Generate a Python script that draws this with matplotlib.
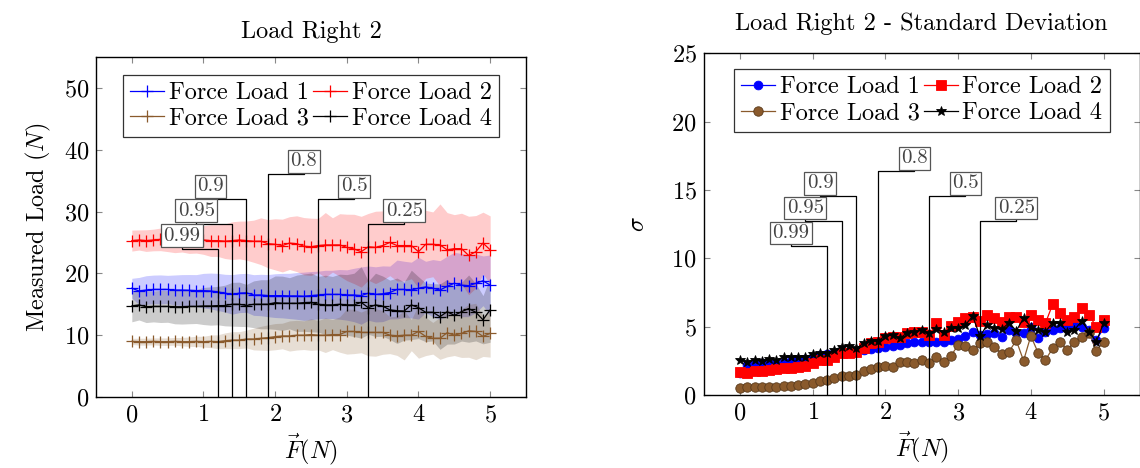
import numpy as np
import matplotlib
matplotlib.use('Agg')
import matplotlib.pyplot as plt
import matplotlib.transforms as mtransforms

plt.rcParams['font.family'] = 'cmr10'
plt.rcParams['mathtext.fontset'] = 'cm'
plt.rcParams['axes.formatter.use_mathtext'] = True

# force steps 0 .. 5 N
force = np.round(np.arange(0, 5.01, 0.1), 1)

# mean measured load per force load (left plot)
mean_load1 = [17.6, 17.15, 17.3, 17.4, 17.4, 17.4, 17.3, 17.3, 17.25, 17.2, 17.2, 17.15, 17.0,
              16.8, 16.6, 16.8, 16.85, 16.5, 16.5, 16.4, 16.4, 16.4, 16.35, 16.35, 16.3,
              16.4, 16.5, 16.6, 16.6, 16.6, 16.5, 16.5, 16.4, 16.8, 16.6, 16.7, 16.9, 17.4,
              17.4, 17.3, 17.6, 17.8, 17.6, 17.3, 17.9, 18.4, 18.1, 18.0, 18.4, 18.8, 18.1]
mean_load2 = [25.3, 25.4, 25.3, 25.4, 25.5, 25.4, 25.3, 25.4, 25.3, 25.4, 25.4, 25.3, 25.3,
              25.2, 25.3, 25.4, 25.3, 25.2, 25.2, 24.8, 24.7, 24.5, 24.9, 24.8, 24.4,
              24.3, 24.5, 24.6, 24.6, 24.6, 24.2, 23.95, 23.5, 24.3, 24.2, 24.5, 25.0, 24.5,
              24.5, 24.5, 23.5, 24.7, 24.7, 24.6, 23.8, 24.0, 24.0, 22.9, 23.5, 24.9, 23.8]
mean_load3 = [9.0, 8.95, 8.95, 9.0, 8.95, 8.95, 9.0, 8.95, 8.95, 9.0, 8.95, 9.0, 8.95,
              9.1, 9.2, 9.2, 9.38, 9.38, 9.5, 9.6, 9.76, 9.87, 9.87, 10.0, 10.0,
              10.1, 10.0, 10.0, 10.1, 10.1, 10.6, 10.6, 10.45, 10.45, 10.45, 10.45, 10.0, 9.9,
              10.0, 10.0, 10.6, 9.8, 9.5, 9.5, 10.4, 10.0, 10.3, 10.7, 10.6, 9.8, 10.3]
mean_load4 = [14.72, 14.9, 14.6, 14.65, 14.65, 14.65, 14.6, 14.6, 14.65, 14.65, 14.72, 14.72, 14.78,
              14.8, 15.0, 15.0, 14.8, 15.0, 15.0, 15.0, 15.26, 15.16, 15.16, 15.16, 15.26,
              15.3, 15.0, 14.9, 14.9, 15.0, 14.9, 14.9, 15.3, 14.45, 14.9, 14.7, 14.1, 13.95,
              13.9, 14.9, 14.45, 13.7, 13.7, 13.0, 13.8, 13.2, 13.8, 14.3, 13.7, 12.5, 14.1]

# standard deviation per force load (right plot)
std_load1 = [1.6, 2.19, 2.32, 2.32, 2.35, 2.28, 2.44, 2.5, 2.56, 2.6, 2.8, 2.9, 3.0,
             3.05, 3.2, 3.15, 3.15, 3.29, 3.35, 3.41, 3.54, 3.6, 3.66, 3.78, 3.9,
             3.9, 3.85, 3.9, 3.9, 4.02, 4.07, 4.32, 4.63, 4.39, 4.46, 4.51, 4.27, 4.75,
             4.56, 4.51, 5.0, 4.15, 4.63, 4.75, 4.87, 5.0, 5.12, 5.0, 4.75, 4.02, 4.87]
std_load2 = [1.7, 1.63, 1.75, 1.75, 1.83, 1.88, 1.95, 1.95, 2.07, 2.12, 2.32, 2.56, 2.56,
             2.8, 3.05, 3.05, 3.17, 3.41, 3.78, 3.9, 4.14, 4.27, 4.27, 4.51, 4.63,
             4.63, 4.39, 5.24, 4.39, 5.05, 5.37, 5.61, 5.73, 5.4, 5.85, 5.6, 5.37, 5.73,
             5.73, 5.37, 5.85, 5.5, 5.24, 6.63, 6.03, 5.5, 5.73, 6.34, 5.85, 5.0, 5.5]
std_load3 = [0.49, 0.56, 0.56, 0.56, 0.61, 0.61, 0.63, 0.68, 0.76, 0.83, 0.88, 1.02, 1.12,
             1.27, 1.37, 1.37, 1.44, 1.76, 1.93, 2.07, 2.12, 2.07, 2.44, 2.4, 2.32,
             2.56, 2.37, 2.8, 2.44, 2.85, 3.66, 3.58, 3.29, 3.78, 3.85, 3.54, 2.98, 3.17,
             4.0, 2.51, 4.32, 3.1, 2.56, 3.41, 3.9, 3.29, 3.9, 4.27, 4.56, 3.24, 3.85]
std_load4 = [2.56, 2.44, 2.56, 2.5, 2.6, 2.56, 2.76, 2.8, 2.8, 2.76, 3.0, 3.1, 3.1,
             3.29, 3.54, 3.58, 3.41, 3.78, 3.97, 3.97, 4.32, 4.39, 4.14, 4.56, 4.63,
             4.75, 4.51, 4.8, 4.6, 4.87, 4.9, 5.12, 5.78, 4.3, 5.12, 4.87, 4.8, 5.29,
             4.7, 5.61, 5.0, 4.75, 4.63, 5.29, 5.24, 4.63, 4.75, 5.44, 4.63, 3.9, 5.24]

series_names = ['Force Load 1', 'Force Load 2', 'Force Load 3', 'Force Load 4']
colors = ['#0000ff', '#ff0000', '#8a5a2c', '#000000']

# marked force values and their labels
cut_x = [1.2, 1.4, 1.6, 1.9, 2.6, 3.3]
cut_labels = ['0.99', '0.95', '0.9', '0.8', '0.5', '0.25']
cut_height = [0.436, 0.509, 0.582, 0.655, 0.582, 0.509]   # as fraction of axis height
cut_side = [-1, -1, -1, 1, 1, 1]

means = [mean_load1, mean_load2, mean_load3, mean_load4]
stds = [std_load1, std_load2, std_load3, std_load4]

FS = 17.5


def style_axes(ax):
    ax.tick_params(direction='in', length=4.5, width=0.8, color='#888888',
                   top=True, right=True, labelsize=FS, pad=5)
    for s in ax.spines.values():
        s.set_linewidth(1.0)


def draw_cuts(ax):
    trans = mtransforms.blended_transform_factory(ax.transData, ax.transAxes)
    for x, lab, h, side in zip(cut_x, cut_labels, cut_height, cut_side):
        xl = x + 0.5 * side
        ax.plot([x, x, xl, xl], [0, h, h, h + 0.01], color='black', lw=0.9,
                transform=trans, zorder=6)
        ax.text(xl, h + 0.012, lab, transform=trans, ha='center', va='bottom',
                fontsize=15, color='#444444', zorder=7,
                bbox=dict(boxstyle='square,pad=0.12', fc='white', ec='#555555', lw=0.9))


def add_legend(ax, ypos):
    h, l = ax.get_legend_handles_labels()
    order = [0, 2, 1, 3]   # row-wise filling
    leg = ax.legend([h[i] for i in order], [l[i] for i in order],
                    loc='upper center', bbox_to_anchor=(0.5, ypos), ncol=2, fontsize=FS,
                    frameon=True, fancybox=False, borderaxespad=0, handlelength=1.4,
                    handletextpad=0.2, columnspacing=0.15, borderpad=0.3, labelspacing=0.15)
    leg.get_frame().set_edgecolor('black')
    leg.get_frame().set_linewidth(0.9)
    leg.set_zorder(8)


fig = plt.figure(figsize=(11.4, 4.68), dpi=100)

# left: measured load
ax1 = fig.add_axes([0.0842, 0.1517, 0.3772, 0.7265])
for m, s, c in zip(means, stds, colors):
    m = np.array(m)
    s = np.array(s)
    ax1.fill_between(force, m - s, m + s, color=c, alpha=0.2, lw=0)
for m, c, n in zip(means, colors, series_names):
    ax1.plot(force, m, color=c, lw=0.9, marker='+', markersize=8, markeredgewidth=0.9, label=n)
draw_cuts(ax1)
ax1.set_xlim(-0.5, 5.5)
ax1.set_ylim(0, 55)
ax1.set_yticks([0, 10, 20, 30, 40, 50])
ax1.set_xticks([0, 1, 2, 3, 4, 5])
style_axes(ax1)
ax1.set_title('Load Right 2', fontsize=17.5, pad=14)
ax1.set_xlabel(r'$\vec{F}(N)$', fontsize=FS, labelpad=4)
ax1.set_ylabel(r'Measured Load $(N)$', fontsize=FS, labelpad=8)
add_legend(ax1, 0.948)

# right: standard deviation
ax2 = fig.add_axes([0.6172, 0.156, 0.3827, 0.730])
marks = [('o', 6.3, 'none'), ('s', 6.5, 'none'), ('o', 6.8, '#5a3a1c'), ('*', 7, 'black')]
for s, c, n, (mk, ms, ec) in zip(stds, colors, series_names, marks):
    ax2.plot(force, s, color=c, lw=0.9, marker=mk, markersize=ms,
             markeredgecolor=(c if ec == 'none' else ec), markeredgewidth=0.6,
             markerfacecolor=(c if mk != '*' else 'black'), label=n)
draw_cuts(ax2)
ax2.set_xlim(-0.5, 5.5)
ax2.set_ylim(0, 25)
ax2.set_yticks([0, 5, 10, 15, 20, 25])
ax2.set_xticks([0, 1, 2, 3, 4, 5])
style_axes(ax2)
ax2.set_title('Load Right 2 - Standard Deviation', fontsize=17.5, pad=17)
ax2.set_xlabel(r'$\vec{F}(N)$', fontsize=FS, labelpad=4)
ax2.set_ylabel(r'$\sigma$', fontsize=FS, labelpad=16)
add_legend(ax2, 0.954)

fig.savefig('out.png', dpi=100)
